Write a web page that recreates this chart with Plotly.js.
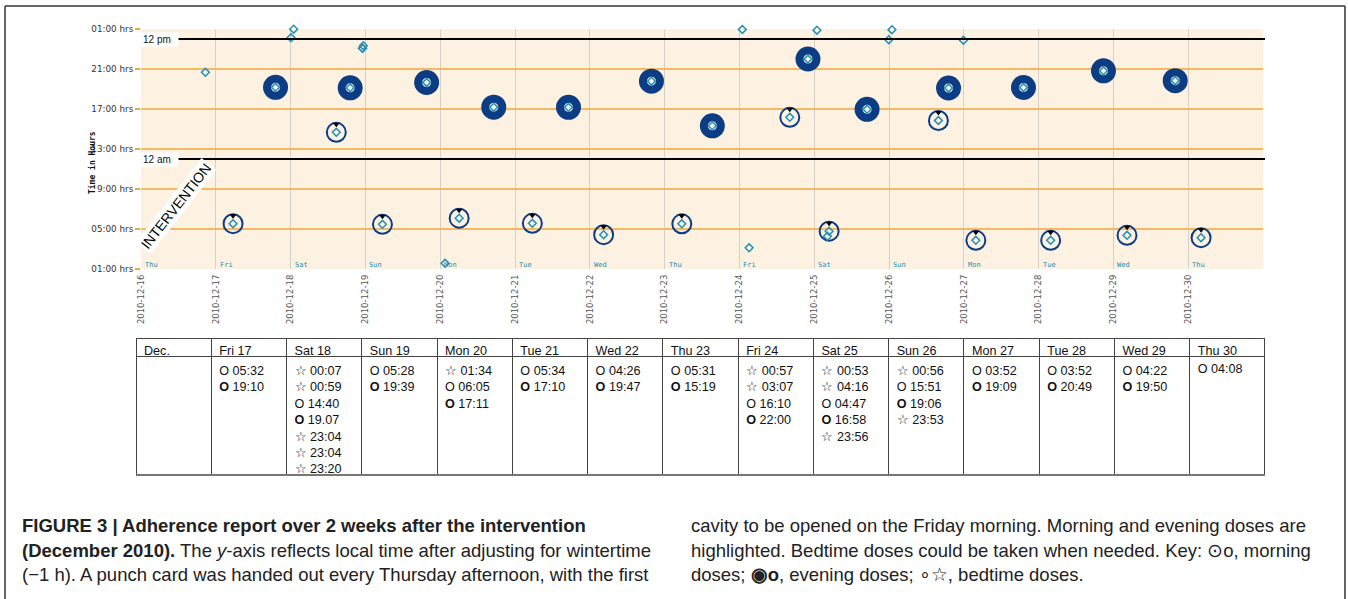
<!DOCTYPE html>
<html>
<head>
<meta charset="utf-8">
<script src="https://cdn.plot.ly/plotly-3.0.1.min.js"></script>
<style>html,body{margin:0;padding:0;background:#fff;}#chart{width:1348px;height:599px;}</style>
</head>
<body>
<div id="chart"></div>
<script>
// ---------- DATA ----------
const axisDates = ['2010-12-16','2010-12-17','2010-12-18','2010-12-19','2010-12-20','2010-12-21','2010-12-22','2010-12-23','2010-12-24','2010-12-25','2010-12-26','2010-12-27','2010-12-28','2010-12-29','2010-12-30'];
const axisDayNames = ['Thu','Fri','Sat','Sun','Mon','Tue','Wed','Thu','Fri','Sat','Sun','Mon','Tue','Wed','Thu'];
const dayDates = ['2010-12-17','2010-12-18','2010-12-19','2010-12-20','2010-12-21','2010-12-22','2010-12-23','2010-12-24','2010-12-25','2010-12-26','2010-12-27','2010-12-28','2010-12-29','2010-12-30'];
const dayLabels = ['Fri 17','Sat 18','Sun 19','Mon 20','Tue 21','Wed 22','Thu 23','Fri 24','Sat 25','Sun 26','Mon 27','Tue 28','Wed 29','Thu 30'];
const morningDoses = ['05:32','14:40','05:28','06:05','05:34','04:26','05:31','16:10','04:47','15:51','03:52','03:52','04:22','04:08'];
const eveningDoses = ['19:10','19.07','19:39','17:11','17:10','19:47','15:19','22:00','16:58','19:06','19:09','20:49','19:50',''];
const bedtimeDoses = [[],['00:07','00:59','23:04','23:04','23:20'],[],['01:34'],[],[],[],['00:57','03:07'],['00:53','04:16','23:56'],['00:56','23:53'],[],[],[],[]];
const extraDates = ['2010-12-16'];
const extraTimes = ['20:40'];
const yTickVals = [1,5,9,13,17,21,25];
const yTickText = ['01:00 hrs','05:00 hrs','9:00 hrs','13:00 hrs','17:00 hrs','21:00 hrs','01:00 hrs'];
const refLines = [24, 12];
const refLabels = ['12 pm', '12 am'];

// ---------- HELPERS ----------
const NAVY = '#0b3c84', TEAL = '#2390b5';
const STAR = '\u2606';
function hm(t){ const p = t.split(/[:.]/); return [p[0].padStart(2,'0'), p[1]]; }
function hours(t){ const [h,m] = hm(t); return +h + (+m)/60; }
function yPos(t){ const v = hours(t); return v < 1 ? v + 24 : v; }
function xPos(d,t){ const [h,m] = hm(t); return d + ' ' + h + ':' + m; }

const mX=[],mY=[],eX=[],eY=[],bX=[],bY=[];
dayDates.forEach((d,i)=>{
  if(morningDoses[i]){ mX.push(xPos(d,morningDoses[i])); mY.push(yPos(morningDoses[i])); }
  if(eveningDoses[i]){ eX.push(xPos(d,eveningDoses[i])); eY.push(yPos(eveningDoses[i])); }
  bedtimeDoses[i].forEach(t=>{ bX.push(xPos(d,t)); bY.push(yPos(t)); });
});
extraDates.forEach((d,i)=>{ bX.push(xPos(d,extraTimes[i])); bY.push(yPos(extraTimes[i])); });

// table columns
const cellCols = dayDates.map((d,i)=>{
  const items = [];
  if(morningDoses[i]) items.push({t:hours(morningDoses[i]), s:'O '+morningDoses[i]});
  if(eveningDoses[i]) items.push({t:hours(eveningDoses[i]), s:'<b>O</b> '+eveningDoses[i]});
  bedtimeDoses[i].forEach(t=>items.push({t:hours(t), s:STAR+' '+t}));
  items.sort((a,b)=>a.t-b.t);
  return [items.map(o=>o.s).join('<br>')];
});

// ---------- GEOMETRY (pixel -> paper) ----------
const L=136, R=83, T=29, B=124, W=1348, H=599;
const PW=W-L-R, PH=H-T-B;
const px = p => (p-L)/PW;
const py = p => (H-B-p)/PH;

const tableFont = {family:'"Liberation Sans",Arial,sans-serif', size:12.6, color:'#111'};
const traces = [
  {type:'scatter', mode:'markers', x:mX, y:mY, hoverinfo:'skip', cliponaxis:false,
   marker:{symbol:'circle-open', size:19, color:NAVY, line:{width:2, color:NAVY}}},
  {type:'scatter', mode:'markers', x:mX, y:mY.map(v=>v+0.8), hoverinfo:'skip', cliponaxis:false,
   marker:{symbol:'triangle-down', size:6, color:'#000'}},
  {type:'scatter', mode:'markers', x:eX, y:eY, hoverinfo:'skip', cliponaxis:false,
   marker:{symbol:'circle', size:17, color:'#f7f4ec', line:{width:8, color:NAVY}}},
  {type:'scatter', mode:'markers', x:mX.concat(eX, bX), y:mY.concat(eY, bY), hoverinfo:'skip', cliponaxis:false,
   marker:{symbol:'diamond-open', size:6, color:TEAL, line:{width:1.5, color:TEAL}}},
  {type:'table', domain:{x:[0,1], y:[0, py(338)]}, columnwidth: Array(15).fill(1),
   header:{values:['Dec.'].concat(dayLabels), align:'left', height:18, font:tableFont,
     fill:{color:'#fff'}, line:{color:'#444', width:1}},
   cells:{values:[['']].concat(cellCols), align:'left', height:119, font:tableFont,
     fill:{color:'#fff'}, line:{color:'#444', width:1}}}
];

const annotations = [];
annotations.push({xref:'paper', yref:'paper', x:px(92), y:py(163), xanchor:'center', yanchor:'middle', text:'<b>Time in Hours</b>', textangle:-90, showarrow:false,
  font:{family:'"DejaVu Sans Mono",monospace', size:8, color:'#111'}});
refLines.forEach((v,i)=>annotations.push({xref:'paper', yref:'y', x:px(141), y:v, xanchor:'left', yanchor:'middle', text:refLabels[i],
  showarrow:false, bgcolor:'#fff', width:34, align:'left', borderpad:1, font:{family:'"Liberation Sans",Arial,sans-serif', size:10, color:'#111'}}));
annotations.push({xref:'x', yref:'y', x:'2010-12-16 11:15', y:7.3, text:'INTERVENTION', textangle:-52, showarrow:false, bgcolor:'#fff', borderpad:1,
  font:{family:'"Liberation Sans",Arial,sans-serif', size:14, color:'#000'}});
axisDates.forEach((d,i)=>annotations.push({xref:'x', yref:'y', x:d, y:1, xanchor:'left', yanchor:'bottom', xshift:2, yshift:-2, text:axisDayNames[i],
  showarrow:false, font:{family:'"DejaVu Sans Mono",monospace', size:7, color:TEAL}}));

const capFont = {family:'"Liberation Sans",Arial,sans-serif', size:18.5, color:'#222'};
const capLeft = ['<b>FIGURE 3 | Adherence report over 2 weeks after the intervention</b>',
  '<b>(December 2010).</b> The <i>y</i>-axis reflects local time after adjusting for wintertime',
  '(\u22121 h). A punch card was handed out every Thursday afternoon, with the first'];
const capRight = ['cavity to be opened on the Friday morning. Morning and evening doses are',
  'highlighted. Bedtime doses could be taken when needed. Key: \u2299o, morning',
  'doses; <b>\u25c9o</b>, evening doses; \u2218' + STAR + ', bedtime doses.'];
const capY = [525, 550, 574];
capLeft.forEach((t,i)=>annotations.push({xref:'paper', yref:'paper', x:px(20), y:py(capY[i]), xanchor:'left', yanchor:'middle', text:t, showarrow:false, font:capFont}));
capRight.forEach((t,i)=>annotations.push({xref:'paper', yref:'paper', x:px(689), y:py(capY[i]), xanchor:'left', yanchor:'middle', text:t, showarrow:false, font:capFont}));

const shapes = refLines.map(v=>({type:'line', xref:'paper', yref:'y', x0:px(150), x1:px(1265), y0:v, y1:v, line:{color:'#000', width:2}, layer:'above'}));
shapes.push({type:'line', xref:'paper', yref:'paper', x0:px(136), x1:px(1265), y0:py(475), y1:py(475), line:{color:'#777', width:2}});
shapes.push({type:'line', xref:'paper', yref:'paper', x0:px(5), x1:px(5), y0:py(6), y1:py(610), line:{color:'#333', width:1.5}});
shapes.push({type:'line', xref:'paper', yref:'paper', x0:px(5), x1:px(1345), y0:py(6), y1:py(6), line:{color:'#333', width:1.5}});
shapes.push({type:'line', xref:'paper', yref:'paper', x0:px(1345), x1:px(1345), y0:py(6), y1:py(610), line:{color:'#333', width:1.5}});

const layout = {
  width:W, height:H, margin:{l:L, r:R, t:T, b:B, pad:0},
  paper_bgcolor:'#fff', plot_bgcolor:'#fdf1e2', showlegend:false,
  xaxis:{type:'date', domain:[px(141), px(1263)], range:['2010-12-16','2010-12-31'],
    tickmode:'array', tickvals:axisDates, ticktext:axisDates, tickangle:-90, ticklabelstandoff:3,
    showgrid:true, gridcolor:'#d6d0c6', gridwidth:1, zeroline:false, showline:false, ticks:'',
    tickfont:{family:'"DejaVu Sans",sans-serif', size:8.5, color:'#555'}, anchor:'y'},
  yaxis:{domain:[py(269), py(29)], range:[1,25], tickmode:'array', tickvals:yTickVals, ticktext:yTickText,
    showgrid:true, gridcolor:'#f6b862', gridwidth:1.5, zeroline:false, showline:false,
    ticks:'outside', ticklen:5, tickwidth:2, tickcolor:'#f5a623',
    tickfont:{family:'"DejaVu Sans",sans-serif', size:8.8, color:'#333'}},
  annotations:annotations, shapes:shapes
};
Plotly.newPlot('chart', traces, layout, {displayModeBar:false, staticPlot:true});
</script>
</body>
</html>
